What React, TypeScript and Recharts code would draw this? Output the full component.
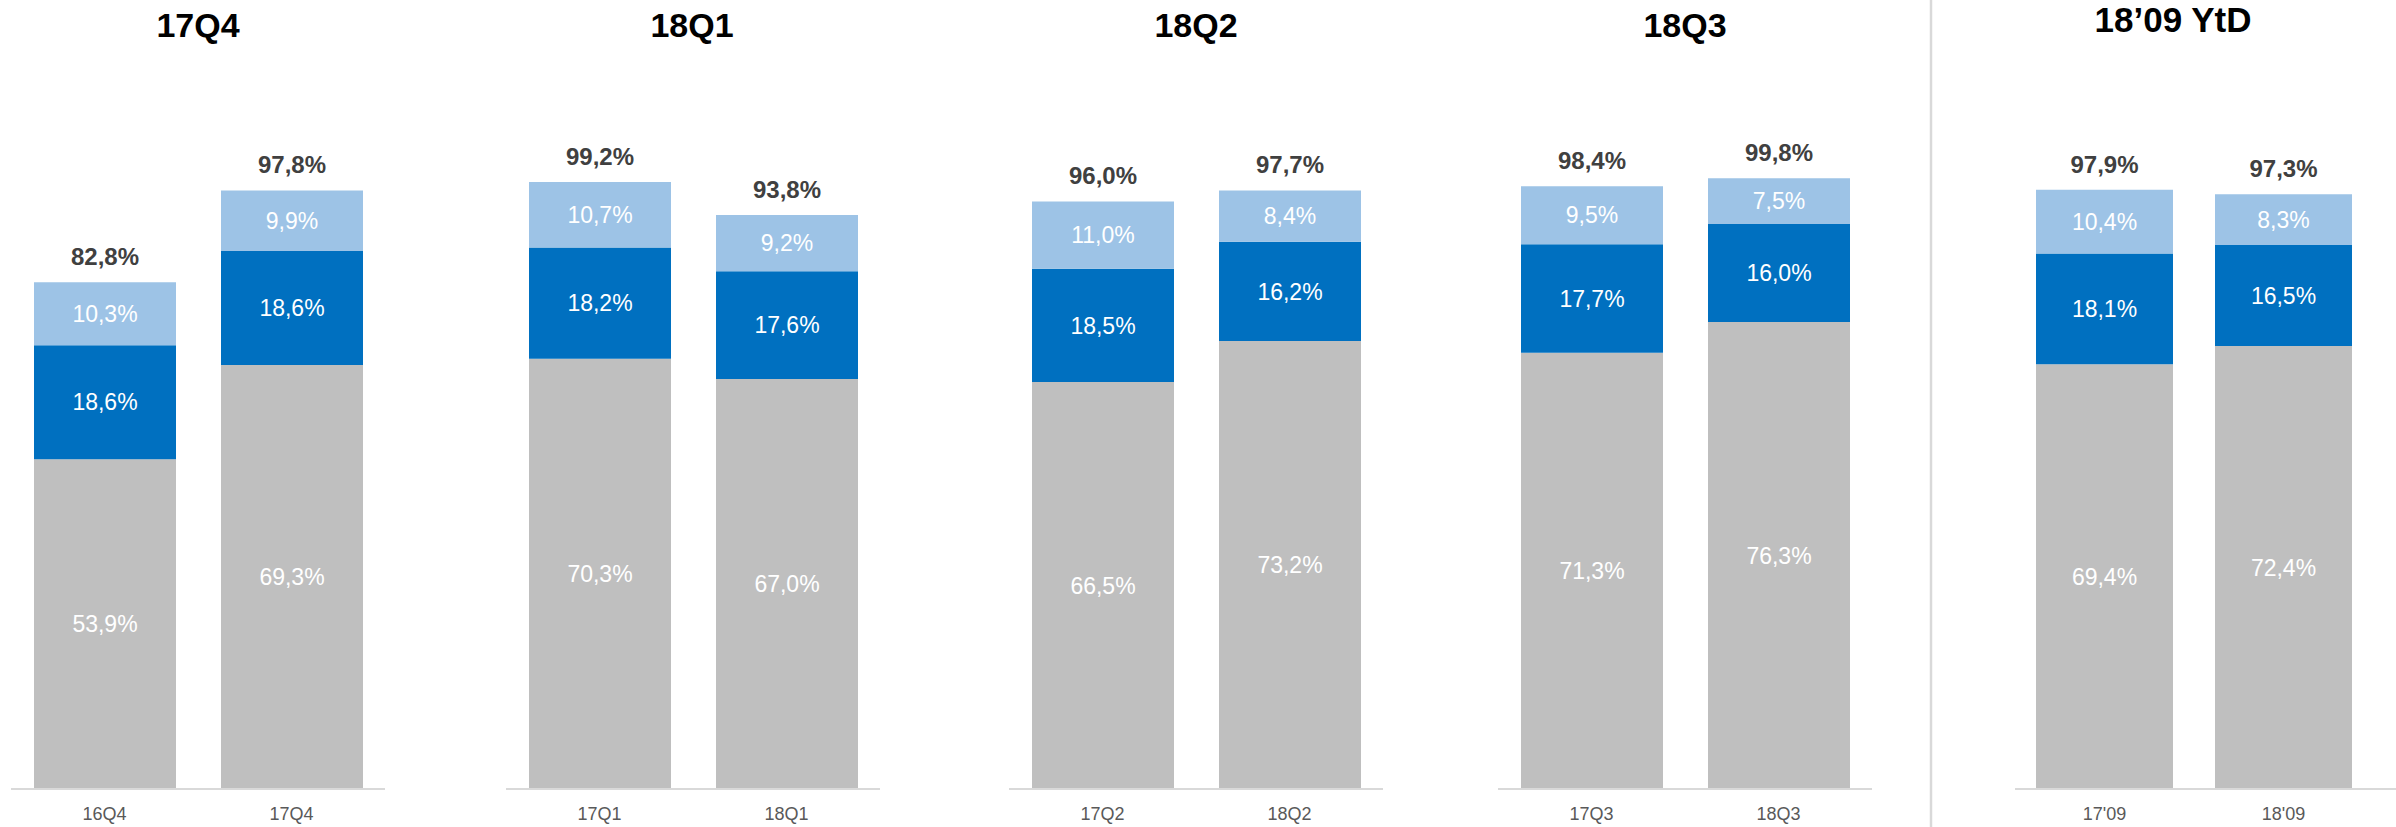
import React from 'react';
import { BarChart, Bar, XAxis, YAxis, LabelList } from 'recharts';

// ---- data ----
const panelTitles = ['17Q4', '18Q1', '18Q2', '18Q3', '18’09 YtD'];
const categories = [
  ['16Q4', '17Q4'],
  ['17Q1', '18Q1'],
  ['17Q2', '18Q2'],
  ['17Q3', '18Q3'],
  ["17'09", "18'09"],
];
const grayValues = [[53.9, 69.3], [70.3, 67.0], [66.5, 73.2], [71.3, 76.3], [69.4, 72.4]];
const darkValues = [[18.6, 18.6], [18.2, 17.6], [18.5, 16.2], [17.7, 16.0], [18.1, 16.5]];
const lightValues = [[10.3, 9.9], [10.7, 9.2], [11.0, 8.4], [9.5, 7.5], [10.4, 8.3]];
const totalValues = [[82.8, 97.8], [99.2, 93.8], [96.0, 97.7], [98.4, 99.8], [97.9, 97.3]];

// ---- layout ----
const panelLeft = [11, 506, 1009, 1498, 2015];
const panelWidth = [374, 374, 374, 374, 381];
const panelPadRight = [0, 0, 0, 0, 23];
const barSizes = [142, 142, 142, 142, 137];
const titleX = [198, 692, 1196, 1685, 2173];
const titleY = [37, 37, 37, 37, 32];
const titleSize = [34, 34, 34, 34, 35];

const GRAY = '#bfbfbf';
const DARK = '#0070c0';
const LIGHT = '#9dc3e6';
const FONT = '"Liberation Sans", Arial, Helvetica, sans-serif';

const fmt = (v: any) => `${Number(v).toFixed(1).replace('.', ',')}%`;

function Panel({ idx }: { idx: number }) {
  const data = categories[idx].map((c, i) => ({
    name: c,
    gray: grayValues[idx][i],
    dark: darkValues[idx][i],
    light: lightValues[idx][i],
    total: totalValues[idx][i],
  }));
  return (
    <div style={{ position: 'absolute', left: panelLeft[idx], top: 0 }}>
      <BarChart
        width={panelWidth[idx]}
        height={827}
        data={data}
        margin={{ top: 177, right: 0, bottom: 0, left: 0 }}
      >
        <XAxis
          dataKey="name"
          height={38}
          interval={0}
          tickLine={false}
          tickSize={0}
          tickMargin={18}
          axisLine={{ stroke: '#d9d9d9', strokeWidth: 2 }}
          tick={{ fill: '#595959', fontSize: 18 }}
          padding={{ left: 0, right: panelPadRight[idx] }}
        />
        <YAxis hide domain={[0, 100]} />
        <Bar dataKey="gray" stackId="a" fill={GRAY} barSize={barSizes[idx]} isAnimationActive={false}>
          <LabelList dataKey="gray" position="center" fill="#ffffff" fontSize={23} formatter={fmt} />
        </Bar>
        <Bar dataKey="dark" stackId="a" fill={DARK} barSize={barSizes[idx]} isAnimationActive={false}>
          <LabelList dataKey="dark" position="center" fill="#ffffff" fontSize={23} formatter={fmt} />
        </Bar>
        <Bar dataKey="light" stackId="a" fill={LIGHT} barSize={barSizes[idx]} isAnimationActive={false}>
          <LabelList dataKey="light" position="center" fill="#ffffff" fontSize={23} formatter={fmt} />
          <LabelList
            dataKey="total"
            position="top"
            offset={17}
            fill="#404040"
            fontSize={24}
            fontWeight="bold"
            formatter={fmt}
          />
        </Bar>
      </BarChart>
    </div>
  );
}

export default function App() {
  return (
    <div
      style={{
        position: 'absolute',
        left: 0,
        top: 0,
        width: 2396,
        height: 827,
        background: '#ffffff',
        fontFamily: FONT,
        overflow: 'hidden',
      }}
    >
      <svg width={2396} height={827} style={{ position: 'absolute', left: 0, top: 0 }}>
        <line x1={1931} y1={0} x2={1931} y2={827} stroke="#d9d9d9" strokeWidth={2.5} />
        {panelTitles.map((t, i) => (
          <text
            key={t}
            x={titleX[i]}
            y={titleY[i]}
            textAnchor="middle"
            fontFamily={FONT}
            fontWeight="bold"
            fontSize={titleSize[i]}
            fill="#000000"
          >
            {t}
          </text>
        ))}
      </svg>
      {panelTitles.map((_, i) => (
        <Panel key={i} idx={i} />
      ))}
    </div>
  );
}
